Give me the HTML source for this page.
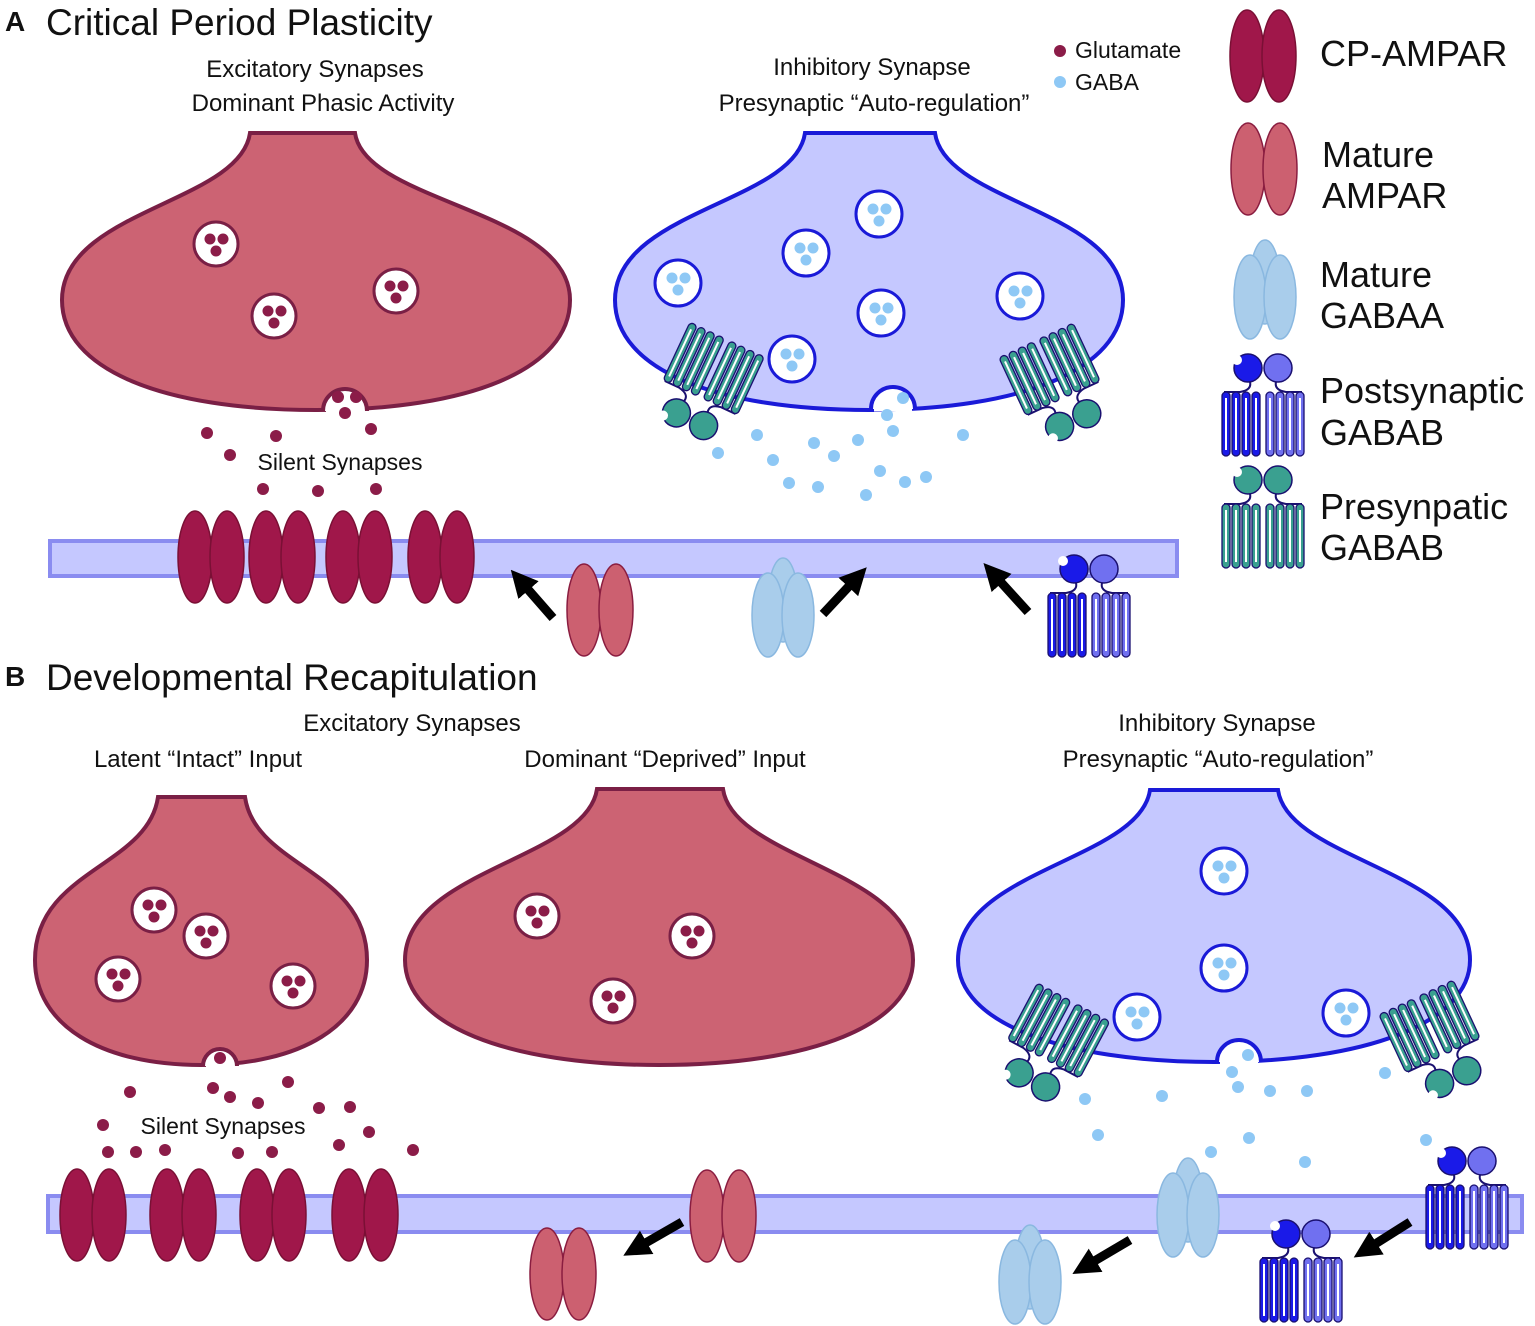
<!DOCTYPE html>
<html><head><meta charset="utf-8"><style>
html,body{margin:0;padding:0;background:#fff}
svg{display:block}
text{font-family:"Liberation Sans",Arial,sans-serif;fill:#111}
</style></head><body>
<svg width="1535" height="1326" viewBox="0 0 1535 1326" xmlns="http://www.w3.org/2000/svg">
<defs>
<marker id="ah" viewBox="0 0 10 10" refX="2" refY="5" markerWidth="3" markerHeight="3" orient="auto"><path d="M0,0 L10,5 L0,10 Z" fill="#000"/></marker>
<g id="cp"><ellipse cx="-16" cy="0" rx="17" ry="46" fill="#a0174a" stroke="#7a1035" stroke-width="1.5"/><ellipse cx="16" cy="0" rx="17" ry="46" fill="#a0174a" stroke="#7a1035" stroke-width="1.5"/></g>
<g id="ma"><ellipse cx="-16" cy="0" rx="17" ry="46" fill="#cc6070" stroke="#8a1d40" stroke-width="1.5"/><ellipse cx="16" cy="0" rx="17" ry="46" fill="#cc6070" stroke="#8a1d40" stroke-width="1.5"/></g>
<g id="ga"><ellipse cx="0" cy="-10" rx="15" ry="42" fill="#a9cdeb" stroke="#8ab8e0" stroke-width="1.5"/><ellipse cx="-15" cy="5" rx="16" ry="42" fill="#a9cdeb" stroke="#8ab8e0" stroke-width="1.5"/><ellipse cx="15" cy="5" rx="16" ry="42" fill="#a9cdeb" stroke="#8ab8e0" stroke-width="1.5"/></g>
<g id="loopsPost">
<g fill="#1a1ae8" stroke="#1a1070" stroke-width="1.3">
<rect x="2" y="40" width="8" height="64" rx="4"/><rect x="12" y="40" width="8" height="64" rx="4"/><rect x="22" y="40" width="8" height="64" rx="4"/><rect x="32" y="40" width="8" height="64" rx="4"/></g>
<g fill="#7070f0" stroke="#1a1070" stroke-width="1.3">
<rect x="46" y="40" width="8" height="64" rx="4"/><rect x="56" y="40" width="8" height="64" rx="4"/><rect x="66" y="40" width="8" height="64" rx="4"/><rect x="76" y="40" width="8" height="64" rx="4"/></g>
</g>
<g id="loopsPre" fill="#3aa090" stroke="#1a1070" stroke-width="1.3">
<rect x="2" y="40" width="8" height="64" rx="4"/><rect x="12" y="40" width="8" height="64" rx="4"/><rect x="22" y="40" width="8" height="64" rx="4"/><rect x="32" y="40" width="8" height="64" rx="4"/>
<rect x="46" y="40" width="8" height="64" rx="4"/><rect x="56" y="40" width="8" height="64" rx="4"/><rect x="66" y="40" width="8" height="64" rx="4"/><rect x="76" y="40" width="8" height="64" rx="4"/>
</g>
<g id="inner" fill="#fff"><rect x="5" y="46" width="2" height="52"/><rect x="15" y="46" width="2" height="52"/><rect x="25" y="46" width="2" height="52"/><rect x="35" y="46" width="2" height="52"/><rect x="49" y="46" width="2" height="52"/><rect x="59" y="46" width="2" height="52"/><rect x="69" y="46" width="2" height="52"/><rect x="79" y="46" width="2" height="52"/></g>
<g id="gbPost">
<path d="M30,30 Q32,38 20,40 H4 M56,30 Q54,38 66,40 H82" fill="none" stroke="#1a1070" stroke-width="2"/>
<use href="#loopsPost"/><use href="#inner"/>
<circle cx="28" cy="16" r="14" fill="#1a1ae8" stroke="#1a1070" stroke-width="1.5"/><circle cx="17" cy="8" r="5" fill="#fff"/>
<circle cx="58" cy="16" r="14" fill="#7070f0" stroke="#1a1070" stroke-width="1.5"/>
</g>
<g id="gbPre">
<path d="M30,30 Q32,38 20,40 H4 M56,30 Q54,38 66,40 H82" fill="none" stroke="#1a1070" stroke-width="2"/>
<use href="#loopsPre"/><use href="#inner"/>
<circle cx="28" cy="16" r="14" fill="#3aa090" stroke="#1a1070" stroke-width="1.5"/><circle cx="17" cy="8" r="5" fill="#fff"/>
<circle cx="58" cy="16" r="14" fill="#3aa090" stroke="#1a1070" stroke-width="1.5"/>
</g>
<g id="gv"><circle r="22" fill="#fff" stroke="#7a1f45" stroke-width="3"/><circle cx="-6" cy="-5" r="5.5" fill="#8b1c48"/><circle cx="7" cy="-5" r="5.5" fill="#8b1c48"/><circle cx="0" cy="7" r="5.5" fill="#8b1c48"/></g>
<g id="bv"><circle r="23" fill="#fff" stroke="#1a1ad8" stroke-width="3"/><circle cx="-6" cy="-5" r="5.5" fill="#8ec8f5"/><circle cx="7" cy="-5" r="5.5" fill="#8ec8f5"/><circle cx="0" cy="7" r="5.5" fill="#8ec8f5"/></g>
</defs>

<!-- Titles -->
<text x="5" y="31" font-size="28" font-weight="bold">A</text>
<text x="46" y="35" font-size="37">Critical Period Plasticity</text>
<text x="315" y="77" font-size="24" text-anchor="middle">Excitatory Synapses</text>
<text x="323" y="111" font-size="24" text-anchor="middle">Dominant Phasic Activity</text>
<text x="872" y="75" font-size="24" text-anchor="middle">Inhibitory Synapse</text>
<text x="874" y="111" font-size="24" text-anchor="middle">Presynaptic “Auto-regulation”</text>
<circle cx="1060" cy="51" r="6" fill="#8b1c48"/><text x="1075" y="58" font-size="23">Glutamate</text>
<circle cx="1060" cy="82" r="6" fill="#8ec8f5"/><text x="1075" y="90" font-size="23">GABA</text>

<!-- Legend -->
<use href="#cp" transform="translate(1263,56)"/>
<text x="1320" y="66" font-size="36">CP-AMPAR</text>
<use href="#ma" transform="translate(1264,169)"/>
<text x="1322" y="167" font-size="36">Mature</text><text x="1322" y="208" font-size="36">AMPAR</text>
<use href="#ga" transform="translate(1265,292)"/>
<text x="1320" y="287" font-size="36">Mature</text><text x="1320" y="328" font-size="36">GABAA</text>
<use href="#gbPost" transform="translate(1220,352)"/>
<text x="1320" y="403" font-size="36">Postsynaptic</text><text x="1320" y="445" font-size="36">GABAB</text>
<use href="#gbPre" transform="translate(1220,464)"/>
<text x="1320" y="519" font-size="36">Presynpatic</text><text x="1320" y="560" font-size="36">GABAB</text>

<!-- A excitatory terminal -->
<path d="M250,133 H355 C365,203 570,210 570,300 C570,370 468,410 316,410 C164,410 62,370 62,300 C62,210 240,203 250,133 Z" fill="#cc6373" stroke="#7a1f45" stroke-width="4"/>
<line x1="326" y1="410" x2="364" y2="410" stroke="#fff" stroke-width="7"/>
<path d="M323,411 A22,22 0 1 1 367,411" fill="#fff" stroke="#7a1f45" stroke-width="4"/>
<use href="#gv" transform="translate(216,244)"/><use href="#gv" transform="translate(274,316)"/><use href="#gv" transform="translate(396,291)"/>
<g fill="#8b1c48"><circle cx="338" cy="397" r="6"/><circle cx="356" cy="397" r="6"/><circle cx="345" cy="413" r="6"/>
<circle cx="207" cy="433" r="6"/><circle cx="276" cy="436" r="6"/><circle cx="230" cy="455" r="6"/><circle cx="371" cy="429" r="6"/><circle cx="263" cy="489" r="6"/><circle cx="318" cy="491" r="6"/><circle cx="376" cy="489" r="6"/></g>
<text x="340" y="470" font-size="23" text-anchor="middle">Silent Synapses</text>

<!-- A inhibitory terminal -->
<path d="M805,133 H935 C945,203 1123,210 1123,300 C1123,370 1021,410 869,410 C717,410 615,370 615,300 C615,210 795,203 805,133 Z" fill="#c5c8ff" stroke="#1a1ad8" stroke-width="4"/>
<line x1="874" y1="408" x2="912" y2="408" stroke="#fff" stroke-width="7"/>
<path d="M871,409 A22,22 0 1 1 915,409" fill="#fff" stroke="#1a1ad8" stroke-width="4"/>
<use href="#bv" transform="translate(879,214)"/><use href="#bv" transform="translate(806,253)"/><use href="#bv" transform="translate(678,283)"/><use href="#bv" transform="translate(881,313)"/><use href="#bv" transform="translate(1020,296)"/><use href="#bv" transform="translate(792,359)"/>
<use href="#gbPre" transform="translate(715,368) rotate(25) scale(1,-1) translate(-44,-73)"/>
<use href="#gbPre" transform="translate(1050,368) rotate(-25) scale(1,-1) translate(-44,-73)"/>
<g fill="#8ec8f5"><circle cx="903" cy="398" r="6"/><circle cx="887" cy="415" r="6"/><circle cx="893" cy="431" r="6"/><circle cx="757" cy="435" r="6"/><circle cx="814" cy="443" r="6"/><circle cx="858" cy="440" r="6"/><circle cx="718" cy="453" r="6"/><circle cx="773" cy="460" r="6"/><circle cx="834" cy="456" r="6"/><circle cx="963" cy="435" r="6"/><circle cx="880" cy="471" r="6"/><circle cx="789" cy="483" r="6"/><circle cx="818" cy="487" r="6"/><circle cx="866" cy="495" r="6"/><circle cx="905" cy="482" r="6"/><circle cx="926" cy="477" r="6"/></g>

<!-- A bar -->
<rect x="50" y="541" width="1127" height="35" fill="#c5c8ff" stroke="#8a8cf0" stroke-width="4"/>
<use href="#cp" transform="translate(211,557)"/><use href="#cp" transform="translate(282,557)"/><use href="#cp" transform="translate(359,557)"/><use href="#cp" transform="translate(441,557)"/>
<use href="#ma" transform="translate(600,610)"/>
<use href="#ga" transform="translate(783,610)"/>
<use href="#gbPost" transform="translate(1046,553)"/>
<g stroke="#000" stroke-width="9" marker-end="url(#ah)"><line x1="553" y1="618" x2="525" y2="586"/><line x1="823" y1="614" x2="852" y2="583"/><line x1="1028" y1="612" x2="998" y2="579"/></g>

<!-- B titles -->
<text x="5" y="686" font-size="28" font-weight="bold">B</text>
<text x="46" y="690" font-size="37">Developmental Recapitulation</text>
<text x="412" y="731" font-size="24" text-anchor="middle">Excitatory Synapses</text>
<text x="198" y="767" font-size="24" text-anchor="middle">Latent “Intact” Input</text>
<text x="665" y="767" font-size="24" text-anchor="middle">Dominant “Deprived” Input</text>
<text x="1217" y="731" font-size="24" text-anchor="middle">Inhibitory Synapse</text>
<text x="1218" y="767" font-size="24" text-anchor="middle">Presynaptic “Auto-regulation”</text>

<!-- B latent -->
<path d="M158,797 H245 C255,867 367,870 367,960 C367,1025 301,1065 201,1065 C101,1065 35,1025 35,960 C35,870 148,867 158,797 Z" fill="#cc6373" stroke="#7a1f45" stroke-width="4"/>
<line x1="206" y1="1065" x2="234" y2="1065" stroke="#fff" stroke-width="7"/>
<path d="M203,1066 A17,17 0 1 1 237,1066" fill="#fff" stroke="#7a1f45" stroke-width="4"/>
<use href="#gv" transform="translate(154,910)"/><use href="#gv" transform="translate(206,936)"/><use href="#gv" transform="translate(118,979)"/><use href="#gv" transform="translate(293,986)"/>
<!-- B dominant -->
<path d="M597,789 H723 C733,859 913,870 913,960 C913,1025 811,1065 659,1065 C507,1065 405,1025 405,960 C405,870 587,859 597,789 Z" fill="#cc6373" stroke="#7a1f45" stroke-width="4"/>
<use href="#gv" transform="translate(537,916)"/><use href="#gv" transform="translate(692,936)"/><use href="#gv" transform="translate(613,1001)"/>
<g fill="#8b1c48"><circle cx="220" cy="1058" r="6"/><circle cx="130" cy="1092" r="6"/><circle cx="213" cy="1088" r="6"/><circle cx="230" cy="1097" r="6"/><circle cx="258" cy="1103" r="6"/><circle cx="288" cy="1082" r="6"/><circle cx="319" cy="1108" r="6"/><circle cx="350" cy="1107" r="6"/><circle cx="103" cy="1125" r="6"/><circle cx="108" cy="1152" r="6"/><circle cx="136" cy="1152" r="6"/><circle cx="165" cy="1150" r="6"/><circle cx="238" cy="1153" r="6"/><circle cx="272" cy="1152" r="6"/><circle cx="339" cy="1145" r="6"/><circle cx="369" cy="1132" r="6"/><circle cx="413" cy="1150" r="6"/></g>
<text x="223" y="1134" font-size="23" text-anchor="middle">Silent Synapses</text>

<!-- B inhibitory -->
<path d="M1150,790 H1278 C1288,860 1470,870 1470,960 C1470,1022 1368,1062 1214,1062 C1060,1062 958,1022 958,960 C958,870 1140,860 1150,790 Z" fill="#c5c8ff" stroke="#1a1ad8" stroke-width="4"/>
<line x1="1220" y1="1061" x2="1258" y2="1061" stroke="#fff" stroke-width="7"/>
<path d="M1217,1062 A22,22 0 1 1 1261,1062" fill="#fff" stroke="#1a1ad8" stroke-width="4"/>
<use href="#bv" transform="translate(1224,871)"/><use href="#bv" transform="translate(1224,968)"/><use href="#bv" transform="translate(1137,1017)"/><use href="#bv" transform="translate(1346,1013)"/>
<use href="#gbPre" transform="translate(1060,1030) rotate(28) scale(1,-1) translate(-44,-73)"/>
<use href="#gbPre" transform="translate(1430,1025) rotate(-25) scale(1,-1) translate(-44,-73)"/>
<g fill="#8ec8f5"><circle cx="1248" cy="1055" r="6"/><circle cx="1232" cy="1072" r="6"/><circle cx="1238" cy="1087" r="6"/><circle cx="1270" cy="1091" r="6"/><circle cx="1307" cy="1091" r="6"/><circle cx="1085" cy="1099" r="6"/><circle cx="1162" cy="1096" r="6"/><circle cx="1385" cy="1073" r="6"/><circle cx="1098" cy="1135" r="6"/><circle cx="1249" cy="1138" r="6"/><circle cx="1211" cy="1152" r="6"/><circle cx="1305" cy="1162" r="6"/><circle cx="1426" cy="1140" r="6"/></g>

<!-- B bar -->
<rect x="48" y="1196" width="1474" height="36" fill="#c5c8ff" stroke="#8a8cf0" stroke-width="4"/>
<use href="#cp" transform="translate(93,1215)"/><use href="#cp" transform="translate(183,1215)"/><use href="#cp" transform="translate(273,1215)"/><use href="#cp" transform="translate(365,1215)"/>
<use href="#ma" transform="translate(723,1216)"/>
<use href="#ma" transform="translate(563,1274)"/>
<use href="#ga" transform="translate(1188,1210)"/>
<use href="#ga" transform="translate(1030,1277)"/>
<use href="#gbPost" transform="translate(1424,1145)"/>
<use href="#gbPost" transform="translate(1258,1218)"/>
<g stroke="#000" stroke-width="9" marker-end="url(#ah)"><line x1="682" y1="1222" x2="642" y2="1245"/><line x1="1130" y1="1240" x2="1091" y2="1263"/><line x1="1410" y1="1222" x2="1372" y2="1246"/></g>
</svg>
</body></html>
